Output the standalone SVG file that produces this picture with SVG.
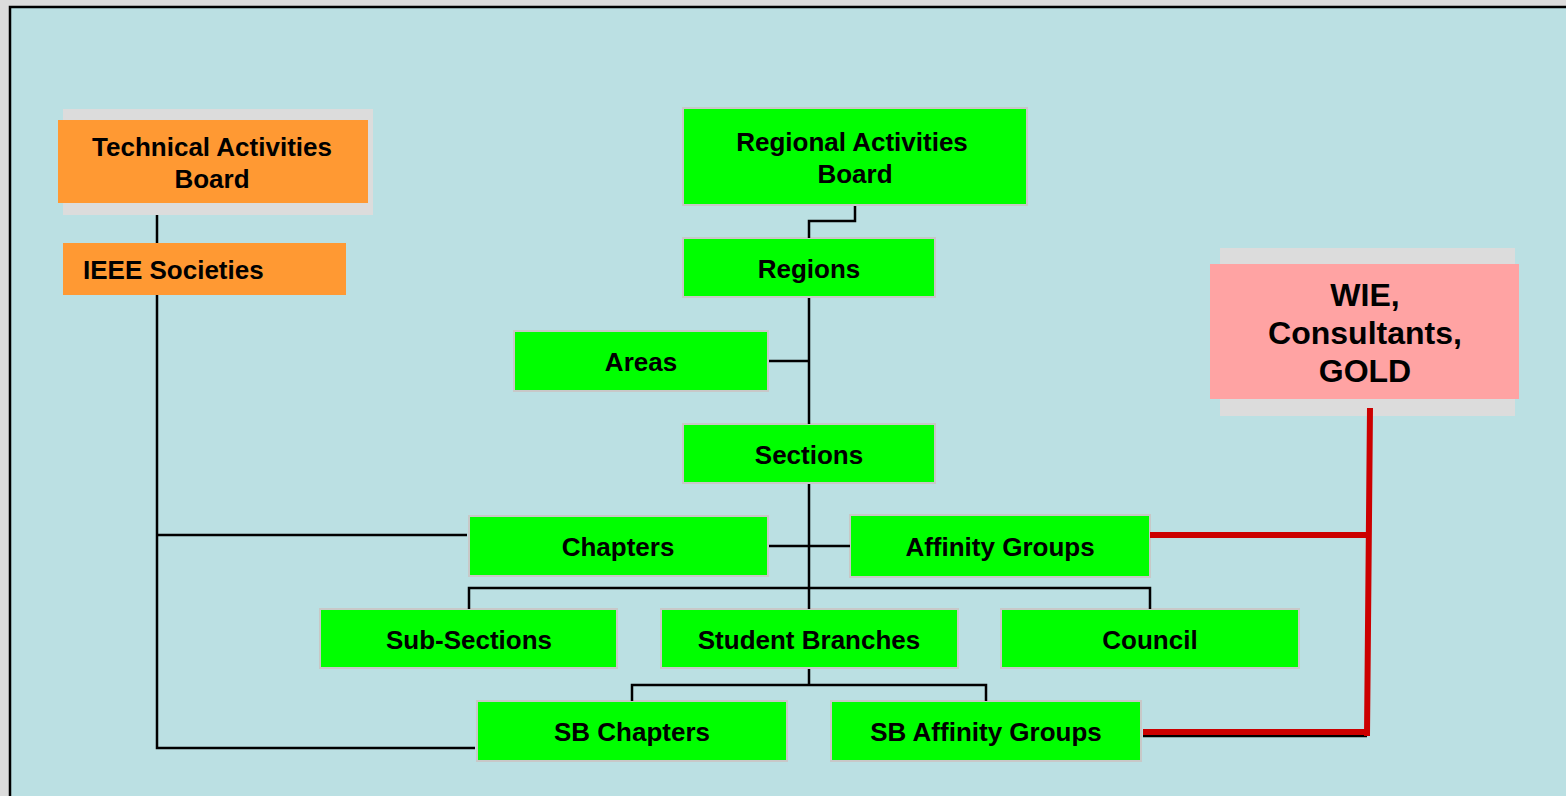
<svg xmlns="http://www.w3.org/2000/svg" width="1566" height="796" viewBox="0 0 1566 796">
<style>
.g{fill:#00ff00;stroke:#c8c8c8;stroke-width:2}
.o{fill:#ff9933}
.sh{fill:#dcdcdc}
.t{font-family:"Liberation Sans",Arial,sans-serif;font-weight:bold;font-size:26px;fill:#000;text-anchor:middle}
.w{font-size:32px}
.c{fill:none;stroke:#000;stroke-width:2.5}
.r{fill:none;stroke:#cc0000;stroke-width:6}
</style>
<rect x="0" y="0" width="1566" height="796" fill="#dcdcdc"/>
<rect x="10" y="7" width="1570" height="800" fill="#bbe0e3" stroke="#000" stroke-width="2.5"/>
<g id="tab">
<rect class="sh" x="63" y="109" width="310" height="106"/>
<rect class="o" x="58" y="120" width="310" height="83"/>
<text class="t" x="212" y="156">Technical Activities</text>
<text class="t" x="212" y="188">Board</text>
</g>
<g id="ieee-societies">
<rect class="o" x="63" y="243" width="283" height="52"/>
<text class="t" x="83" y="279" style="text-anchor:start">IEEE Societies</text>
</g>
<g id="rab">
<rect class="g" x="683" y="108" width="344" height="97"/>
<text class="t" x="852" y="151">Regional Activities</text>
<text class="t" x="855" y="183">Board</text>
</g>
<g id="regions">
<rect class="g" x="683" y="238" width="252" height="59"/>
<text class="t" x="809" y="278">Regions</text>
</g>
<g id="areas">
<rect class="g" x="514" y="331" width="254" height="60"/>
<text class="t" x="641" y="371">Areas</text>
</g>
<g id="sections">
<rect class="g" x="683" y="424" width="252" height="59"/>
<text class="t" x="809" y="464">Sections</text>
</g>
<g id="chapters">
<rect class="g" x="469" y="516" width="299" height="60"/>
<text class="t" x="618" y="556">Chapters</text>
</g>
<g id="affinity-groups">
<rect class="g" x="850" y="515" width="300" height="62"/>
<text class="t" x="1000" y="556">Affinity Groups</text>
</g>
<g id="sub-sections">
<rect class="g" x="320" y="609" width="297" height="59"/>
<text class="t" x="469" y="649">Sub-Sections</text>
</g>
<g id="student-branches">
<rect class="g" x="661" y="609" width="297" height="59"/>
<text class="t" x="809" y="649">Student Branches</text>
</g>
<g id="council">
<rect class="g" x="1001" y="609" width="298" height="59"/>
<text class="t" x="1150" y="649">Council</text>
</g>
<g id="sb-chapters">
<rect class="g" x="477" y="701" width="310" height="60"/>
<text class="t" x="632" y="741">SB Chapters</text>
</g>
<g id="sb-affinity-groups">
<rect class="g" x="831" y="701" width="310" height="60"/>
<text class="t" x="986" y="741">SB Affinity Groups</text>
</g>
<g id="wie">
<rect class="sh" x="1220" y="248" width="295" height="168"/>
<rect fill="#ffa3a3" x="1210" y="264" width="309" height="135"/>
<text class="t w" x="1365" y="306">WIE,</text>
<text class="t w" x="1365" y="344">Consultants,</text>
<text class="t w" x="1365" y="382">GOLD</text>
</g>
<g id="connectors">
<path class="c" d="M157,215 V243 M157,295 V748 H475 M157,535 H467"/>
<path class="c" d="M855,206 V221 H809 V238 M809,298 V424 M769,361 H809 M809,484 V609 M769,546 H850"/>
<path class="c" d="M469,609 V588 H1150 V609"/>
<path class="c" d="M809,669 V685 M632,701 V685 H986 V701"/>
<path class="c" d="M1143,736 H1367"/>
<path class="r" d="M1370,408 L1367,736 M1150,535 H1368 M1143,732 H1367"/>
</g>
</svg>
